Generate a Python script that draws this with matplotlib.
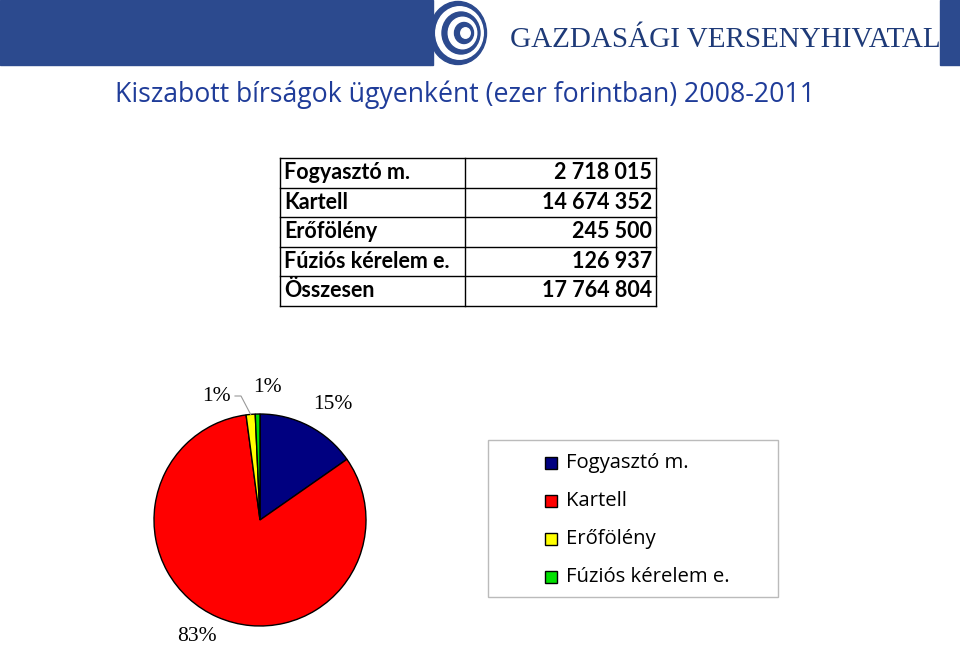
import matplotlib
matplotlib.use('Agg')
import matplotlib.pyplot as plt
from matplotlib.patches import Rectangle, Ellipse
import numpy

# data (ezer forint)
categories = ["Fogyasztó m.", "Kartell", "Erőfölény", "Fúziós kérelem e."]
values = [2718015, 14674352, 245500, 126937]
total_label = "Összesen"
colors = ["#000080", "#ff0000", "#ffff00", "#00e000"]
title = "Kiszabott bírságok ügyenként (ezer forintban) 2008-2011"


def fmt(v):
    return "{:,}".format(v).replace(",", " ")


fig = plt.figure(figsize=(9.6, 6.46), dpi=100)
ax = fig.add_axes([0, 0, 1, 1])
H = 646

# header band
hdr = "#2c4a8e"
ax.add_patch(Rectangle((0, H - 65), 430, 65, color=hdr))
ax.add_patch(Rectangle((940, H - 65), 20, 65, color=hdr))
# spiral-like logo
for i, r in enumerate([30, 25, 20, 15, 10, 5]):
    col = hdr if i % 2 == 0 else "white"
    ax.add_patch(Ellipse((458 + (30 - r) * 0.3, H - 33), r * 1.9, r * 2.1,
                         color=col, zorder=3))
ax.add_patch(Rectangle((430, H - 65), 3, 65, color=hdr))
ax.text(510, H - 40, "GAZDASÁGI VERSENYHIVATAL", fontsize=21,
        family="Liberation Serif", color="#1e3a78", va="center", ha="left")

# title
ax.text(115, H - 95, title, fontsize=19.2, family="Open Sans",
        color="#1f3c99", va="center", ha="left")

# table
x0, x1, x2 = 280, 465, 656
ytop = H - 158
rh = 29.5
rows = [(c, fmt(v)) for c, v in zip(categories, values)]
rows.append((total_label, fmt(sum(values))))
for i, (name, val) in enumerate(rows):
    yc = ytop - rh * (i + 0.5)
    ax.text(x0 + 4, yc, name, fontsize=15.5, family="Lato", weight="bold",
            va="center", ha="left")
    ax.text(x2 - 4, yc, val, fontsize=15.5, family="Lato", weight="bold",
            va="center", ha="right")
for i in range(len(rows) + 1):
    ax.plot([x0, x2], [ytop - rh * i] * 2, color="black", lw=1)
for x in (x0, x1, x2):
    ax.plot([x, x], [ytop, ytop - rh * len(rows)], color="black", lw=1)

# pie
cx, cy, R = 260, H - 520, 106
wedges, _ = ax.pie(values, colors=colors, startangle=90, counterclock=False,
                   center=(cx, cy), radius=R, frame=True,
                   wedgeprops=dict(edgecolor="black", linewidth=1))
ax.set_xlim(0, 960)
ax.set_ylim(0, 646)
ax.set_aspect("equal")
ax.axis("off")

pcts = [100.0 * v / sum(values) for v in values]
offsets = [(11, -4), (-9, 7), (-32, -11), (11, -2)]
for w, p, off in zip(wedges, pcts, offsets):
    ang = numpy.deg2rad((w.theta1 + w.theta2) / 2)
    d = 1.27 * R
    tx = cx + d * numpy.cos(ang) + off[0]
    ty = cy + d * numpy.sin(ang) + off[1]
    ax.text(tx, ty, "{:.0f}%".format(p), fontsize=15.5,
            family="Liberation Serif", ha="center", va="center")

# leader line for Erőfölény label
w = wedges[2]
ang = numpy.deg2rad((w.theta1 + w.theta2) / 2)
ax.plot([cx - 25, cx - 19, cx + R * numpy.cos(ang)],
        [H - 396, H - 396, cy + R * numpy.sin(ang)],
        color="#999999", lw=0.8)

# legend box
ax.add_patch(Rectangle((488, H - 597), 290, 157, fill=False,
                       edgecolor="#bbbbbb", lw=1))
for i, (c, col) in enumerate(zip(categories, colors)):
    yc = H - 463 - 38 * i
    ax.add_patch(Rectangle((545, yc - 6), 12, 12, facecolor=col,
                           edgecolor="black", lw=1))
    ax.text(566, yc, c, fontsize=14.6, family="Open Sans",
            va="center", ha="left")

fig.savefig("out.png", dpi=100)
